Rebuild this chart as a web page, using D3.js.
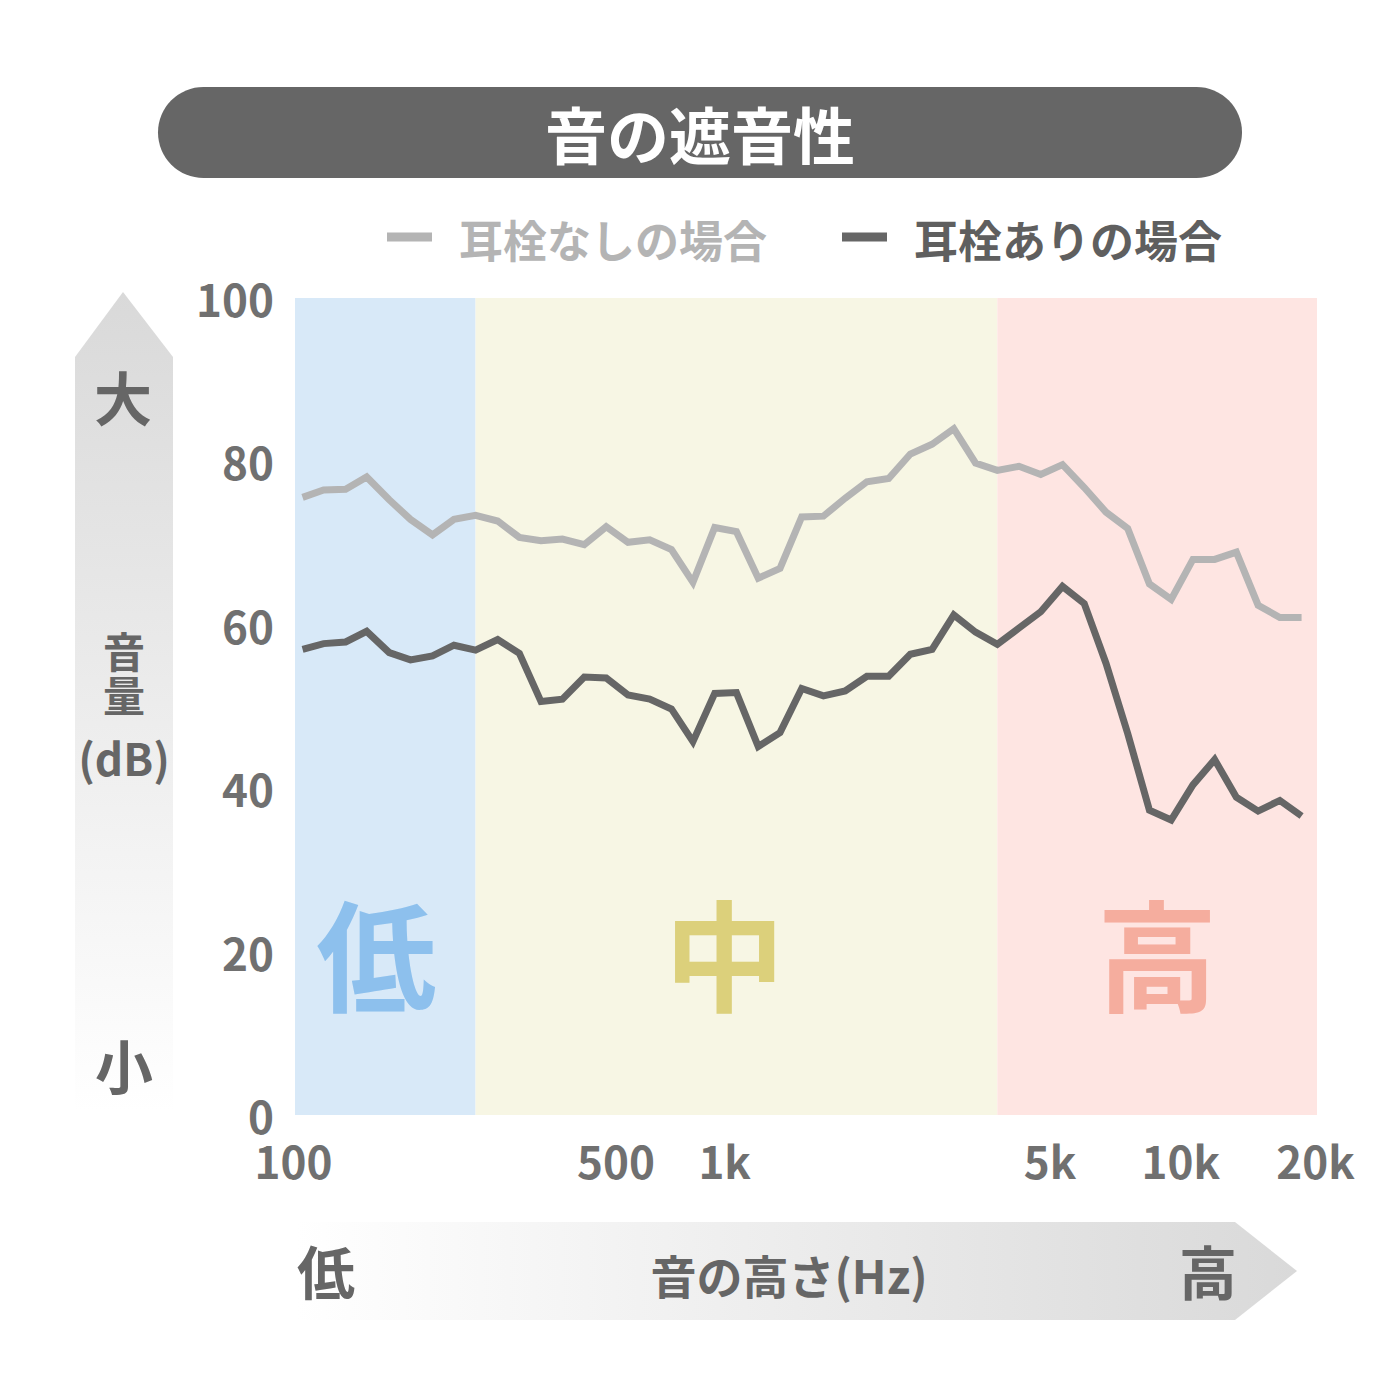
<!DOCTYPE html>
<html lang="ja">
<head>
<meta charset="utf-8">
<title>音の遮音性</title>
<script src="https://cdn.jsdelivr.net/npm/d3@7"></script>
<style>
  body { margin: 0; background: #fff; }
  svg { display: block; font-family: "Noto Sans CJK JP", "Noto Sans", sans-serif; font-weight: 700; }
</style>
</head>
<body>
<div id="chart"></div>
<script>
const freqs = [104, 116, 130, 145, 163, 182, 204, 228, 255, 286, 320, 358, 400, 448, 502, 562,
  629, 704, 787, 881, 986, 1104, 1236, 1383, 1548, 1733, 1939, 2171, 2429, 2719, 3043, 3406,
  3813, 4267, 4776, 5346, 5984, 6697, 7496, 8390, 9391, 10511, 11764, 13167, 14738, 16495, 18462];

// Without ear plugs (dB)
const withoutPlugs = [75.6, 76.5, 76.6, 78.1, 75.3, 72.9, 71.0, 72.9, 73.4, 72.7, 70.7, 70.3, 70.5, 69.8, 72.0, 70.1,
  70.4, 69.2, 65.2, 71.9, 71.4, 65.7, 66.9, 73.2, 73.3, 75.5, 77.5, 77.9, 80.9, 82.1, 84.0, 79.8,
  78.9, 79.4, 78.4, 79.6, 76.8, 73.8, 71.8, 65.0, 63.1, 68.0, 68.0, 68.9, 62.4, 60.9, 60.9];

// With ear plugs (dB)
const withPlugs = [57.0, 57.7, 57.9, 59.2, 56.6, 55.7, 56.2, 57.5, 56.9, 58.2, 56.5, 50.6, 50.9, 53.6, 53.5, 51.4,
  50.9, 49.7, 45.7, 51.6, 51.7, 45.1, 46.8, 52.2, 51.3, 51.9, 53.7, 53.7, 56.4, 57.0, 61.2, 59.1,
  57.6, 59.6, 61.6, 64.7, 62.6, 55.3, 46.7, 37.3, 36.1, 40.4, 43.5, 38.9, 37.2, 38.5, 36.6];

// Frequency bands (low / mid / high)
const bandNames = ["低", "中", "高"];
const bandEdges = [100, 255, 3813, 20000];

const xTickValues = [100, 500, 1000, 5000, 10000, 20000];
const xTickLabels = ["100", "500", "1k", "5k", "10k", "20k"];
const yTickValues = [0, 20, 40, 60, 80, 100];

const seriesNames = ["耳栓なしの場合", "耳栓ありの場合"];

const width = 1400, height = 1400;
const plot = { left: 295, right: 1317, top: 298, bottom: 1115 };

const svg = d3.select("#chart").append("svg")
    .attr("width", width)
    .attr("height", height)
    .attr("viewBox", `0 0 ${width} ${height}`);

svg.append("rect").attr("width", width).attr("height", height).attr("fill", "#fff");

const x = d3.scaleLog().domain([100, 20000]).range([plot.left, plot.right]);
const y = d3.scaleLinear().domain([0, 100]).range([plot.bottom, plot.top]);

// Gradients for the two arrows
const defs = svg.append("defs");
const gv = defs.append("linearGradient").attr("id", "gradV")
    .attr("x1", 0).attr("y1", 0).attr("x2", 0).attr("y2", 1);
gv.append("stop").attr("offset", "0%").attr("stop-color", "#d9d9d9");
gv.append("stop").attr("offset", "100%").attr("stop-color", "#ffffff");
const gh = defs.append("linearGradient").attr("id", "gradH")
    .attr("x1", 0).attr("y1", 0).attr("x2", 1).attr("y2", 0);
gh.append("stop").attr("offset", "0%").attr("stop-color", "#ffffff");
gh.append("stop").attr("offset", "100%").attr("stop-color", "#d9d9d9");

// Title pill
svg.append("rect")
    .attr("x", 158).attr("y", 87)
    .attr("width", 1084).attr("height", 91)
    .attr("rx", 45.5)
    .attr("fill", "#666");
svg.append("text")
    .attr("x", 700).attr("y", 133)
    .attr("text-anchor", "middle")
    .attr("dominant-baseline", "central")
    .attr("font-size", "62px")
    .attr("fill", "#fff")
    .text("音の遮音性");

// Legend
const legendColors = ["#b4b4b4", "#666666"];
const legendX = [387, 842];
seriesNames.forEach((name, i) => {
    const lg = svg.append("g").attr("transform", `translate(${legendX[i]},239)`);
    lg.append("line")
        .attr("x1", 0).attr("x2", 45).attr("y1", -2).attr("y2", -2)
        .attr("stroke", legendColors[i]).attr("stroke-width", 9);
    lg.append("text")
        .attr("x", 72).attr("y", 0)
        .attr("dominant-baseline", "central")
        .attr("font-size", "44px")
        .attr("fill", i === 0 ? "#b4b4b4" : "#5f5f5f")
        .text(name);
});

// Vertical arrow (volume)
svg.append("path")
    .attr("d", "M123,292 L173,357 L173,1112 L75,1112 L75,357 Z")
    .attr("fill", "url(#gradV)");

const sideText = (tx, ty, size, str) => svg.append("text")
    .attr("x", tx).attr("y", ty)
    .attr("text-anchor", "middle")
    .attr("dominant-baseline", "central")
    .attr("font-size", size)
    .attr("fill", "#666")
    .text(str);

sideText(123, 396, "58px", "大");
sideText(124, 649, "42px", "音");
sideText(124, 693, "42px", "量");
sideText(124, 757, "44px", "(dB)");
sideText(124, 1064, "58px", "小");

// Horizontal arrow (pitch)
svg.append("path")
    .attr("d", "M297,1222 L1235,1222 L1297,1271 L1235,1320 L297,1320 Z")
    .attr("fill", "url(#gradH)");

sideText(326, 1270, "58px", "低");
sideText(789, 1274, "46px", "音の高さ(Hz)");
sideText(1208, 1270, "58px", "高");

// Bands
const bandFill = ["#d8e9f8", "#f7f6e4", "#fee5e2"];
const bandText = ["#8dc0ed", "#dcd07b", "#f5ad9e"];
const bandLabelShift = [-9, -12, 0];
const bands = bandNames.map((name, i) => ({ name, from: bandEdges[i], to: bandEdges[i + 1] }));

const g = svg.append("g");

g.selectAll("rect.band")
    .data(bands)
    .enter()
    .append("rect")
    .attr("class", "band")
    .attr("x", d => x(d.from))
    .attr("y", y(100))
    .attr("width", d => x(d.to) - x(d.from))
    .attr("height", y(0) - y(100))
    .attr("fill", (d, i) => bandFill[i]);

g.selectAll("text.band-label")
    .data(bands)
    .enter()
    .append("text")
    .attr("class", "band-label")
    .attr("x", (d, i) => (x(d.from) + x(d.to)) / 2 + bandLabelShift[i])
    .attr("y", y(20.1))
    .attr("text-anchor", "middle")
    .attr("dominant-baseline", "central")
    .attr("font-size", "120px")
    .attr("fill", (d, i) => bandText[i])
    .text(d => d.name);

// Lines
const line = d3.line()
    .x(d => x(d[0]))
    .y(d => y(d[1]));

const series = [withoutPlugs, withPlugs];
series.forEach((vals, i) => {
    g.append("path")
        .datum(freqs.map((f, j) => [f, vals[j]]))
        .attr("fill", "none")
        .attr("stroke", legendColors[i])
        .attr("stroke-width", 7)
        .attr("stroke-linejoin", "miter")
        .attr("d", line);
});

// Axes
const yAxis = svg.append("g")
    .attr("transform", `translate(${plot.left},0)`)
    .call(d3.axisLeft(y).tickValues(yTickValues).tickSize(0).tickPadding(21));
yAxis.select(".domain").remove();
yAxis.selectAll("text")
    .attr("font-size", "44px")
    .attr("font-family", "Noto Sans CJK JP, sans-serif")
    .attr("font-weight", 700)
    .attr("fill", "#707070")
    .attr("dy", "0.42em");

// 500 and 1k labels sit a little off their log positions in the original
const xTickNudge = [-2, 10, -15, 0, -3, -2];
const xAxis = svg.append("g")
    .attr("transform", `translate(0,${plot.bottom})`)
    .call(d3.axisBottom(x).tickValues(xTickValues).tickSize(0).tickPadding(33)
        .tickFormat((d, i) => xTickLabels[i]));
xAxis.select(".domain").remove();
xAxis.selectAll("text")
    .attr("dx", (d, i) => xTickNudge[i])
    .attr("font-size", "44px")
    .attr("font-family", "Noto Sans CJK JP, sans-serif")
    .attr("font-weight", 700)
    .attr("fill", "#707070");
</script>
</body>
</html>
